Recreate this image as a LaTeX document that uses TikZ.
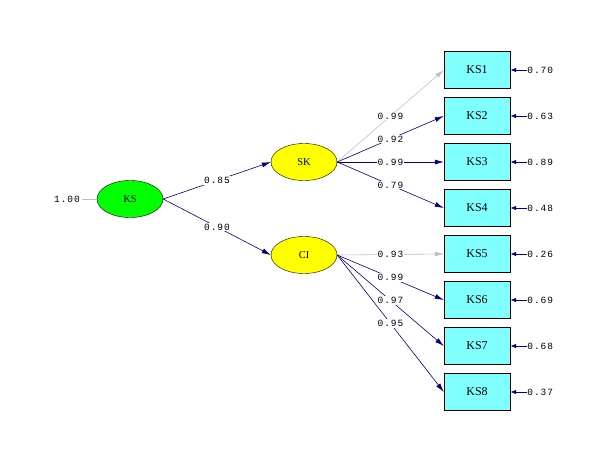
\documentclass[tikz,border=0pt]{standalone}
\usepackage{fontspec}
\setmainfont{Liberation Serif}
\newfontfamily\monofnt[LetterSpace=10]{Liberation Mono}
\usetikzlibrary{shapes.geometric,arrows.meta}
\definecolor{navy}{RGB}{0,0,128}
\definecolor{lgray}{RGB}{192,192,192}
\definecolor{boxcyan}{RGB}{128,255,255}
\definecolor{latgreen}{RGB}{0,255,0}
\definecolor{latyellow}{RGB}{255,255,0}
\tikzset{
  latent/.style={ellipse, draw=black, minimum width=66pt, minimum height=37pt, inner sep=0pt, font=\fontsize{10.5}{11}\selectfont},
  obsbox/.style={rectangle, draw=black, fill=boxcyan, minimum width=66pt, minimum height=37pt, inner sep=0pt, font=\fontsize{12}{12}\selectfont},
  path/.style={draw=navy, line width=0.6pt, -{Latex[length=9pt,width=5pt]}},
  gpath/.style={draw=lgray, line width=0.6pt, -{Latex[length=9pt,width=5pt]}},
  errarrow/.style={draw=navy, line width=0.8pt, -{Latex[length=6pt,width=4.5pt]}},
  coef/.style={fill=white, inner sep=1pt, font=\monofnt\fontsize{9.5}{10}\selectfont},
  errlab/.style={anchor=west, inner sep=0pt, font=\monofnt\fontsize{9.5}{10}\selectfont}
}
\begin{document}
\begin{tikzpicture}[x=1pt,y=-1pt]
\useasboundingbox (0,0) rectangle (599,448);
% latent variables
\node[latent, fill=latgreen] (KS) at (130,199) {KS};
\node[latent, fill=latyellow] (SK) at (304,162) {SK};
\node[latent, fill=latyellow] (CI) at (304,255) {CI};
% observed
\foreach \i/\y in {1/70,2/116,3/162,4/208,5/254,6/300,7/346,8/392}{
  \node[obsbox] (KS\i) at (477,\y) {KS\i};
}
% variance of KS
\node[anchor=east, inner sep=0pt, font=\monofnt\fontsize{9.5}{10}\selectfont] (var) at (80,199) {1.00};
\draw[lgray, line width=0.6pt] (var.east) ++(2,0) coordinate (vs) (vs) -- (KS.west);
% structural paths
\draw[path] (KS.east) -- node[coef, pos=0.5] {0.85} (SK.west);
\draw[path] (KS.east) -- node[coef, pos=0.5] {0.90} (CI.west);
% loadings SK
\draw[gpath] (SK.east) -- node[coef, pos=0.5] {0.99} (KS1.west);
\draw[path] (SK.east) -- node[coef, pos=0.5] {0.92} (KS2.west);
\draw[path] (SK.east) -- node[coef, pos=0.5] {0.99} (KS3.west);
\draw[path] (SK.east) -- node[coef, pos=0.5] {0.79} (KS4.west);
% loadings CI
\draw[gpath] (CI.east) -- node[coef, pos=0.5] {0.93} (KS5.west);
\draw[path] (CI.east) -- node[coef, pos=0.5] {0.99} (KS6.west);
\draw[path] (CI.east) -- node[coef, pos=0.5] {0.97} (KS7.west);
\draw[path] (CI.east) -- node[coef, pos=0.5] {0.95} (KS8.west);
% error terms
\foreach \i/\v in {1/0.70,2/0.63,3/0.89,4/0.48,5/0.26,6/0.69,7/0.68,8/0.37}{
  \node[errlab] (e\i) at ([xshift=17pt]KS\i.east) {\v};
  \draw[errarrow] (e\i.west) -- (KS\i.east);
}
\end{tikzpicture}
\end{document}
